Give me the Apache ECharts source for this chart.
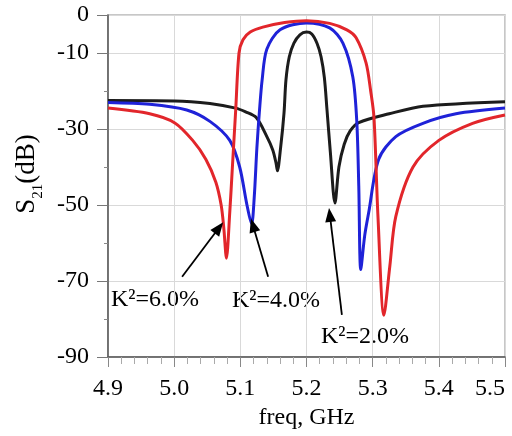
<!DOCTYPE html>
<html>
<head>
<meta charset="utf-8">
<script src="https://cdn.jsdelivr.net/npm/echarts@6/dist/echarts.min.js"></script>
<style>html,body{margin:0;padding:0;background:#fff}#c{width:512px;height:436px}</style>
</head>
<body>
<div id="c"></div>
<script>
// K^2 = 6.0% (red)
const freqRed = [4.900,4.963,5.001,5.028,5.048,5.063,5.071,5.075,5.079,5.084,5.088,5.093,5.098,5.104,5.115,5.134,5.167,5.200,5.235,5.261,5.275,5.290,5.297,5.302,5.308,5.317,5.326,5.335,5.361,5.400,5.451,5.500];
const s21Red  = [-24.5,-26,-28.4,-33,-38,-44,-50,-56,-64,-52,-40,-25,-10,-6.5,-4.5,-3.2,-2,-1.5,-2.2,-3.9,-6,-12.6,-20,-27,-53,-79,-66,-53,-40,-33,-28.5,-26.3];
// K^2 = 4.0% (blue)
const freqBlue = [4.900,4.963,5.019,5.054,5.084,5.099,5.110,5.117,5.121,5.125,5.129,5.133,5.140,5.160,5.200,5.235,5.255,5.270,5.276,5.279,5.282,5.288,5.294,5.309,5.335,5.376,5.426,5.500];
const s21Blue  = [-23,-23.5,-25,-28,-33,-40,-50,-55,-48,-35,-25,-17,-9,-3.9,-2.1,-3.4,-7.4,-16.3,-28,-45,-67,-58,-52,-38,-32,-28.5,-26,-24.5];
// K^2 = 2.0% (black)
const freqBlack = [4.900,5.001,5.054,5.093,5.108,5.124,5.139,5.149,5.154,5.156,5.161,5.166,5.169,5.174,5.181,5.190,5.200,5.208,5.216,5.222,5.227,5.231,5.236,5.243,5.249,5.257,5.266,5.279,5.325,5.376,5.500];
const s21Black  = [-22.5,-22.6,-23.3,-24.5,-25.5,-27,-31.6,-35.5,-39,-41,-34.7,-25.8,-17,-11,-7.4,-5.2,-4.5,-5,-7.5,-11,-16.5,-25,-36,-49.5,-40,-34,-30.5,-28.3,-26,-24,-22.8];

const annoText = ['K²=6.0%','K²=4.0%','K²=2.0%'];
const annoFrom = [[5.012,-68.9],[5.142,-68.9],[5.2535,-78.9]];
const annoTo   = [[5.0677,-56],[5.119,-55.3],[5.2353,-52.6]];

const zip = (a,b)=>a.map((x,i)=>[x,b[i]]);
const font = '"Liberation Serif","Times New Roman",serif';

const chart = echarts.init(document.getElementById('c'));
const mkSeries = (name, data, color, extra) => Object.assign({
  name, type:'line', data, showSymbol:false, smooth:0.3,
  lineStyle:{color, width:3}, itemStyle:{color}, z:3
}, extra||{});

chart.setOption({
  animation:false,
  backgroundColor:'#fff',
  grid:{left:108,right:7,top:15,bottom:79,show:true,borderColor:'#b5b5b5',borderWidth:1.5,
        backgroundColor:'transparent',containLabel:false,outerBoundsMode:'none'},
  xAxis:{
    type:'value', min:4.9, max:5.5, interval:0.1,
    axisLine:{show:true,onZero:false,lineStyle:{color:'#555',width:1.5}},
    axisTick:{show:true,length:10,lineStyle:{color:'#888'}},
    minorTick:{show:true,splitNumber:5,length:7,lineStyle:{color:'#aaa'}},
    splitLine:{show:true,lineStyle:{color:'#d9d9d9',width:1}},
    axisLabel:{formatter:v=>v.toFixed(1),color:'#000',fontFamily:font,fontSize:24,margin:20,alignMaxLabel:'right'},
    name:'freq, GHz', nameLocation:'middle', nameGap:47,
    nameTextStyle:{color:'#000',fontFamily:font,fontSize:24}
  },
  yAxis:{
    type:'value', min:-90, max:0, interval:20,
    axisLine:{show:true,onZero:false,lineStyle:{color:'#555',width:1.5}},
    axisTick:{show:true,length:11,lineStyle:{color:'#777'}},
    minorTick:{show:true,splitNumber:2,length:4,lineStyle:{color:'#888'}},
    splitLine:{show:true,lineStyle:{color:'#d9d9d9',width:1}},
    axisLabel:{color:'#000',fontFamily:font,fontSize:24,margin:19}
  },
  graphic:[
    {type:'text', x:25, y:174, rotation:Math.PI/2,
     style:{text:'{m|S}{s|21}{m|(dB)}', align:'center', verticalAlign:'middle', fill:'#000',
       rich:{m:{fontFamily:font,fontSize:27,fill:'#000',lineHeight:30,verticalAlign:'bottom'},
             s:{fontFamily:font,fontSize:15,fill:'#000',lineHeight:30,verticalAlign:'bottom',padding:[0,0,-6,0]}}}},
    {type:'text', x:111, y:300, style:{text:annoText[0], fontFamily:font, fontSize:24, fill:'#000', align:'left', verticalAlign:'middle'}},
    {type:'text', x:232, y:301, style:{text:annoText[1], fontFamily:font, fontSize:24, fill:'#000', align:'left', verticalAlign:'middle'}},
    {type:'text', x:321, y:337, style:{text:annoText[2], fontFamily:font, fontSize:24, fill:'#000', align:'left', verticalAlign:'middle'}}
  ],
  series:[
    mkSeries('K2=2.0%', zip(freqBlack,s21Black), '#1c1c1c', {
      markLine:{silent:true, symbol:['none','triangle'], symbolSize:[11,14], animation:false,
        lineStyle:{color:'#000',width:1.8,type:'solid'}, label:{show:false},
        data: annoFrom.map((f,i)=>[{coord:f},{coord:annoTo[i]}])}
    }),
    mkSeries('K2=4.0%', zip(freqBlue,s21Blue), '#1f22d8'),
    mkSeries('K2=6.0%', zip(freqRed,s21Red), '#e2262b')
  ]
});
</script>
</body>
</html>
